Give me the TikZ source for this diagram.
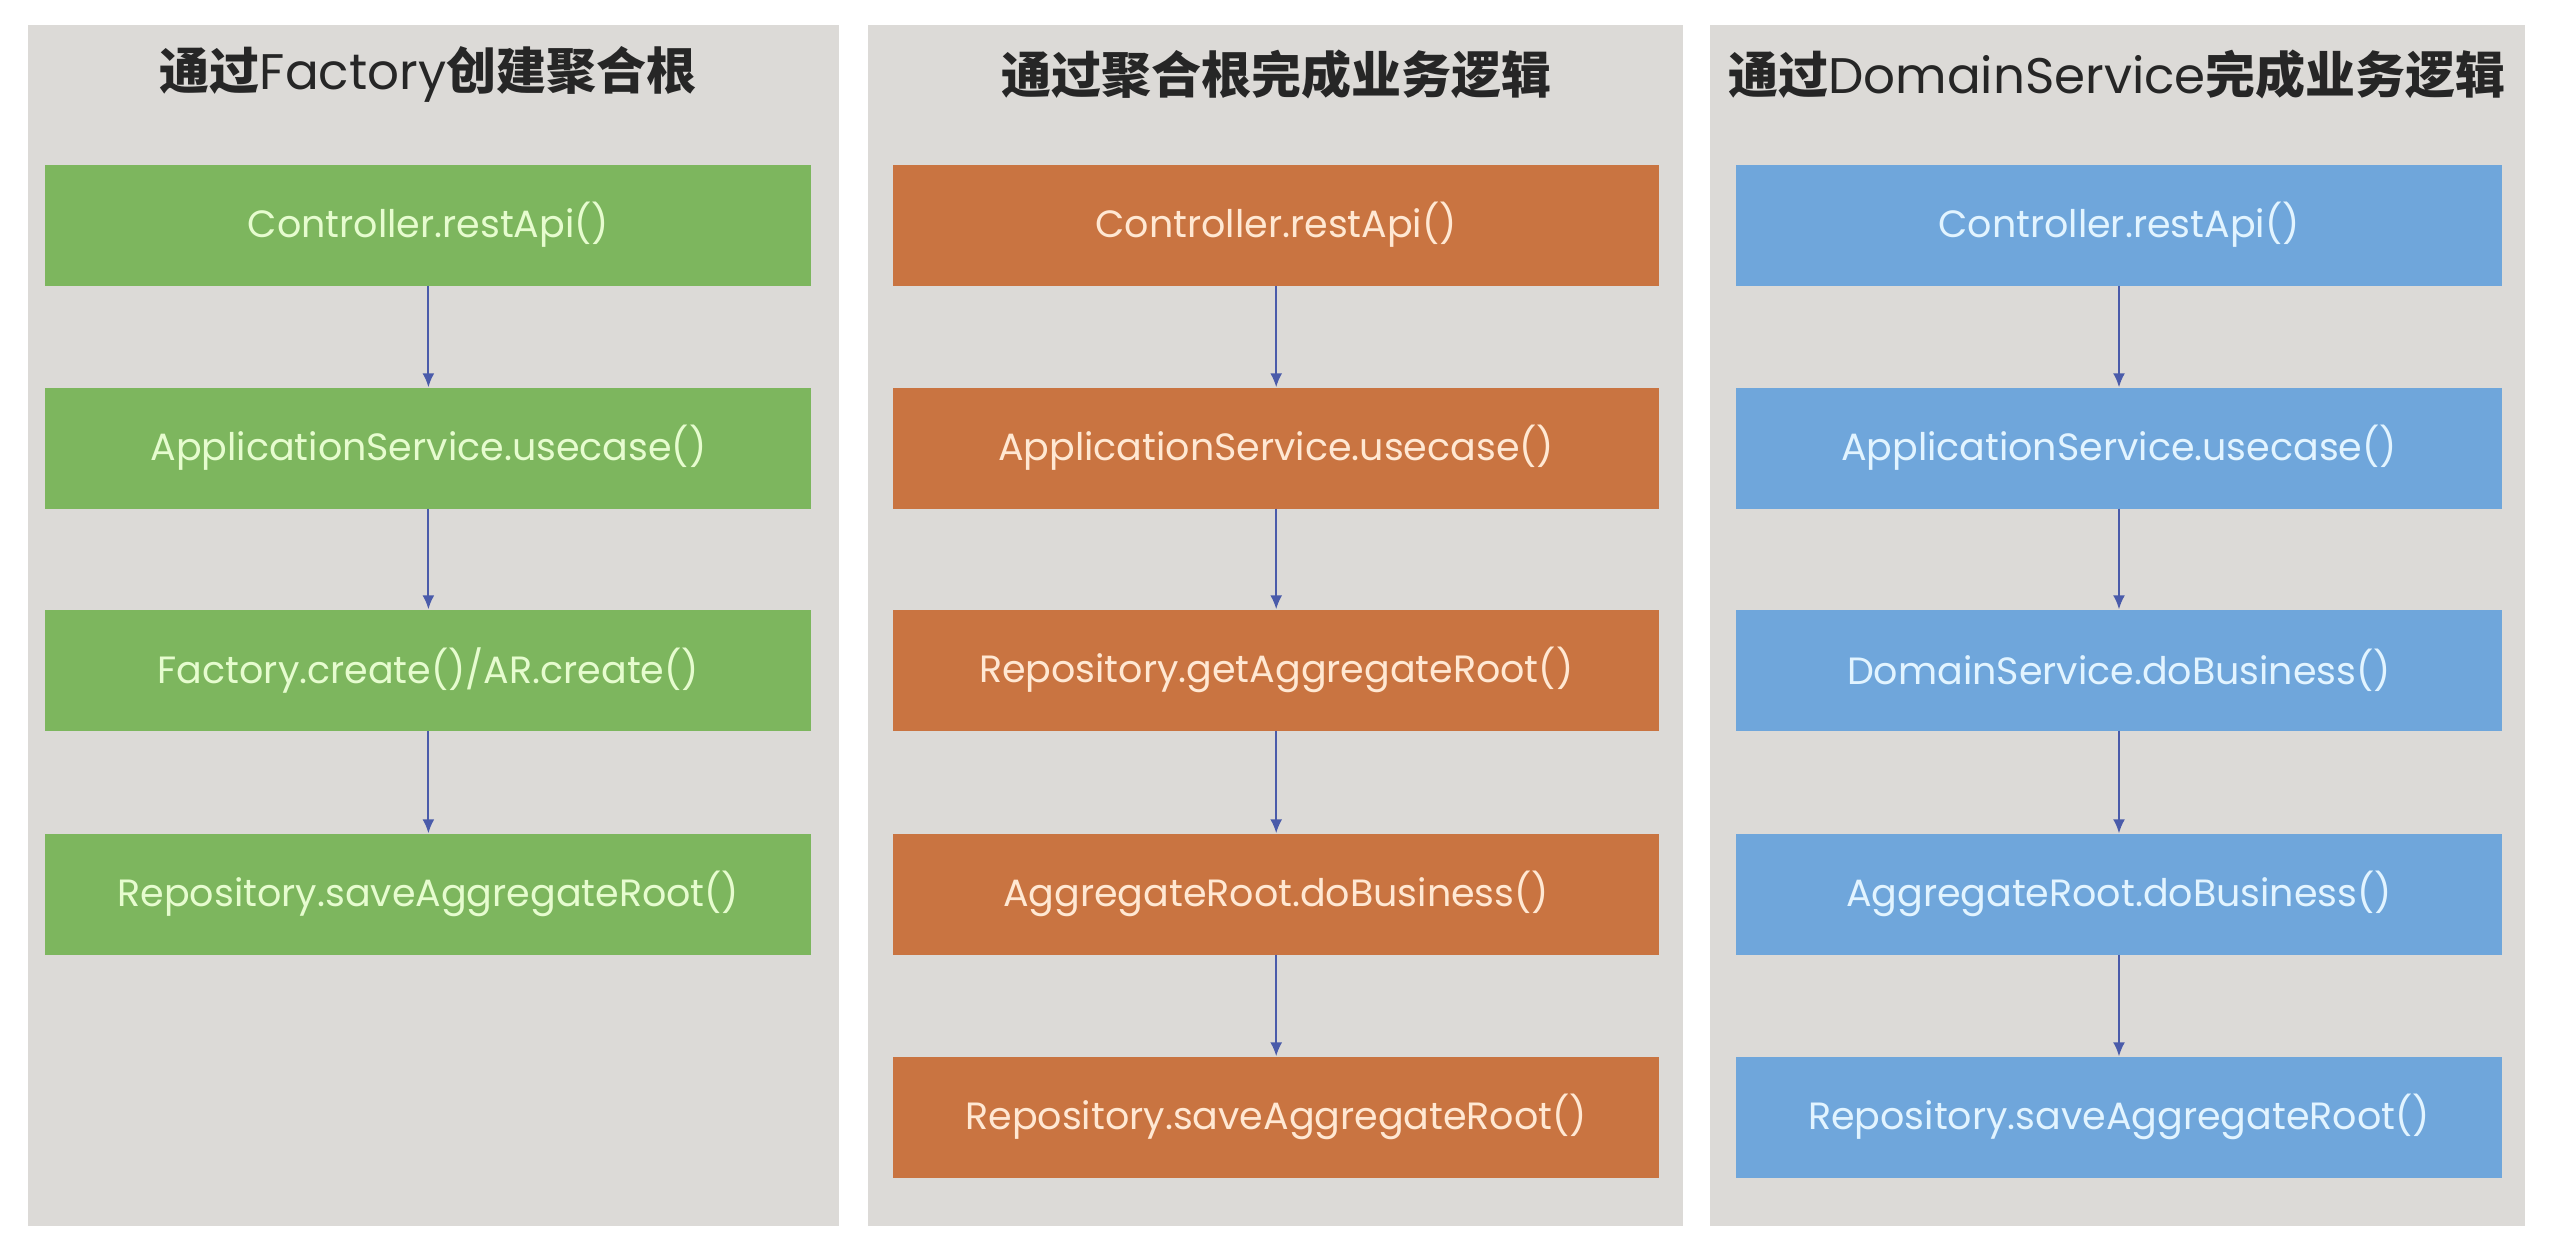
\documentclass[tikz,border=0pt]{standalone}
\usepackage{fontspec}
\setmainfont{Poppins}
\newfontfamily\cjk{Noto Sans CJK SC}
\usetikzlibrary{arrows.meta}
\definecolor{panelgray}{HTML}{DCDAD7}
\definecolor{grn}{HTML}{7DB65E}
\definecolor{org}{HTML}{C97441}
\definecolor{blu}{HTML}{6FA6DB}
\definecolor{grntxt}{HTML}{E6FCCF}
\definecolor{orgtxt}{HTML}{FFE8D3}
\definecolor{blutxt}{HTML}{E2F4FF}
\definecolor{arr}{HTML}{4A5BAA}
\tikzset{
  panel/.style={fill=panelgray, draw=none, minimum width=813pt, minimum height=1201pt, inner sep=0pt},
  ttl/.style={text=black!85, font=\fontsize{50}{58}\selectfont, inner sep=0pt},
  stepbox/.style={draw=none, minimum width=766pt, minimum height=121pt, inner sep=0pt, font=\fontsize{38}{44}\selectfont},
  gbox/.style={stepbox, fill=grn, text=grntxt},
  obox/.style={stepbox, fill=org, text=orgtxt},
  bbox/.style={stepbox, fill=blu, text=blutxt},
  flow/.style={draw=arr, line width=2pt, -{Latex[length=14pt,width=12pt]}}
}
\newcommand{\cjkb}[1]{{\cjk\bfseries #1}}
\begin{document}
\begin{tikzpicture}[x=1pt,y=-1pt]
\path[use as bounding box, fill=white] (0,0) rectangle (2554,1254);
% panels
\node[panel, minimum width=811pt] (p1) at (433,625) {};
\node[panel, minimum width=815pt] (p2) at (1275.3,625) {};
\node[panel, minimum width=815pt] (p3) at (2117.4,625) {};
% titles
\node[ttl] (t1) at (428,74) {\cjkb{通过}Factory\cjkb{创建聚合根}};
\node[ttl] (t2) at (1276,74) {\cjkb{通过聚合根完成业务逻辑}};
\node[ttl] (t3) at (2117,74) {\cjkb{通过}DomainService\cjkb{完成业务逻辑}};
% column 1
\node[gbox] (g1) at (428.4,225) {Controller.restApi()};
\node[gbox] (g2) at (428.4,448) {ApplicationService.usecase()};
\node[gbox] (g3) at (428.4,670) {Factory.create()/AR.create()};
\node[gbox] (g4) at (428.4,894) {Repository.saveAggregateRoot()};
% column 2
\node[obox] (o1) at (1276.2,225) {Controller.restApi()};
\node[obox] (o2) at (1276.2,448) {ApplicationService.usecase()};
\node[obox] (o3) at (1276.2,670) {Repository.getAggregateRoot()};
\node[obox] (o4) at (1276.2,894) {AggregateRoot.doBusiness()};
\node[obox] (o5) at (1276.2,1117) {Repository.saveAggregateRoot()};
% column 3
\node[bbox] (b1) at (2119,225) {Controller.restApi()};
\node[bbox] (b2) at (2119,448) {ApplicationService.usecase()};
\node[bbox] (b3) at (2119,670) {DomainService.doBusiness()};
\node[bbox] (b4) at (2119,894) {AggregateRoot.doBusiness()};
\node[bbox] (b5) at (2119,1117) {Repository.saveAggregateRoot()};
% arrows
\draw[flow] (g1) -- (g2);
\draw[flow] (g2) -- (g3);
\draw[flow] (g3) -- (g4);
\draw[flow] (o1) -- (o2);
\draw[flow] (o2) -- (o3);
\draw[flow] (o3) -- (o4);
\draw[flow] (o4) -- (o5);
\draw[flow] (b1) -- (b2);
\draw[flow] (b2) -- (b3);
\draw[flow] (b3) -- (b4);
\draw[flow] (b4) -- (b5);
\end{tikzpicture}
\end{document}
